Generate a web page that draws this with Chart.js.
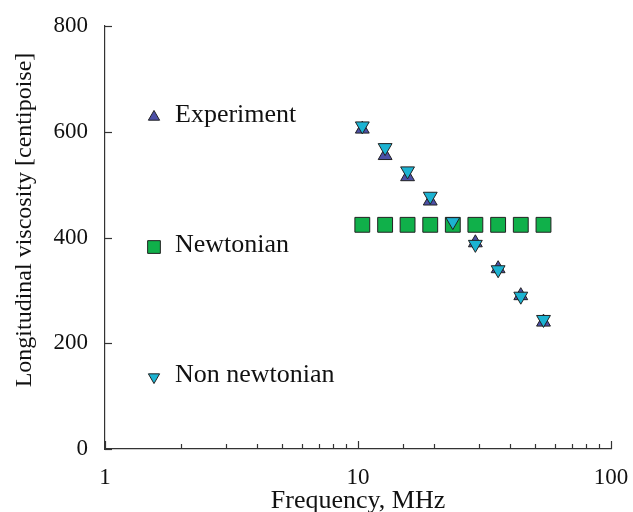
<!DOCTYPE html>
<html>
<head>
<meta charset="utf-8">
<script src="https://cdn.jsdelivr.net/npm/chart.js@4/dist/chart.umd.min.js"></script>
<style>
  html, body { margin: 0; padding: 0; background: #fff; }
  #wrap { width: 633px; height: 512px; }
</style>
</head>
<body>
<div id="wrap"><canvas id="chart" width="633" height="512"></canvas></div>
<script>
// values
const frequency = [10.4, 12.8, 15.7, 19.3, 23.7, 29.1, 35.8, 44.0, 54.1];
const experiment = [605, 555, 515, 469, 423, 390, 341, 290, 240];
const newtonian = [424, 424, 424, 424, 424, 424, 424, 424, 424];
const nonNewtonian = [611, 570, 526, 478, 430, 387, 339, 289, 245];
const yTicks = [0, 200, 400, 600, 800];
const xLabels = [1, 10, 100];

const FONT = "'Liberation Serif', 'DejaVu Serif', serif";
const AXIS = '#333';
const TEXT = '#111';

function points(ys) {
    return frequency.map((f, i) => ({ x: f, y: ys[i] }));
}

// legend entries sit inside the plot, stacked on the left
const legendItems = [
    { label: 'Experiment', style: 'triangle', rot: 0, color: '#4c4fa6', y: 628, r: 6.5 },
    { label: 'Newtonian', style: 'rect', rot: 0, color: '#10b04a', y: 382, r: 9 },
    { label: 'Non newtonian', style: 'triangle', rot: 180, color: '#1cb3d2', y: 136, r: 6.5 }
];

const decorations = {
    id: 'decorations',
    afterDraw(chart) {
        const ctx = chart.ctx;
        const xs = chart.scales.x;
        const ys = chart.scales.y;
        const area = chart.chartArea;
        ctx.save();

        // ticks point into the plot
        ctx.strokeStyle = AXIS;
        ctx.lineWidth = 1.2;
        xs.ticks.forEach(t => {
            const px = Math.round(xs.getPixelForValue(t.value)) + 0.5;
            const major = xLabels.includes(t.value);
            ctx.beginPath();
            ctx.moveTo(px, area.bottom);
            ctx.lineTo(px, area.bottom - (major ? 8 : 5));
            ctx.stroke();
        });
        yTicks.forEach(v => {
            const py = Math.round(ys.getPixelForValue(v)) + 0.5;
            ctx.beginPath();
            ctx.moveTo(area.left, py);
            ctx.lineTo(area.left + 7, py);
            ctx.stroke();
        });

        // legend
        ctx.textBaseline = 'middle';
        ctx.textAlign = 'left';
        ctx.font = '26px ' + FONT;
        legendItems.forEach(item => {
            const py = ys.getPixelForValue(item.y);
            ctx.fillStyle = item.color;
            ctx.strokeStyle = '#222';
            ctx.lineWidth = 1;
            Chart.helpers.drawPoint(ctx, { pointStyle: item.style, rotation: item.rot, radius: item.r, borderWidth: 1 }, 154, py);
            ctx.fillStyle = TEXT;
            ctx.fillText(item.label, 175, py - 2);
        });

        // axis titles
        ctx.textAlign = 'center';
        ctx.fillText('Frequency, MHz', (area.left + area.right) / 2, 501);
        ctx.translate(25, 220);
        ctx.rotate(-Math.PI / 2);
        ctx.font = '24px ' + FONT;
        ctx.fillText('Longitudinal viscosity [centipoise]', 0, 0);
        ctx.restore();
    }
};

const ctx = document.getElementById('chart').getContext('2d');
new Chart(ctx, {
    type: 'scatter',
    data: {
        datasets: [
            {
                label: 'Non newtonian',
                data: points(nonNewtonian),
                pointStyle: 'triangle',
                rotation: 180,
                pointRadius: 8,
                backgroundColor: '#1cb3d2',
                borderColor: '#222',
                borderWidth: 1,
                order: 0
            },
            {
                label: 'Newtonian',
                data: points(newtonian),
                pointStyle: 'rect',
                pointRadius: 10.5,
                backgroundColor: '#10b04a',
                borderColor: '#222',
                borderWidth: 1,
                order: 1
            },
            {
                label: 'Experiment',
                data: points(experiment),
                pointStyle: 'triangle',
                pointRadius: 8,
                backgroundColor: '#4c4fa6',
                borderColor: '#222',
                borderWidth: 1,
                order: 2
            }
        ]
    },
    options: {
        responsive: false,
        animation: false,
        layout: { padding: { top: 26, right: 22, left: 0, bottom: 0 } },
        plugins: {
            legend: { display: false },
            tooltip: { enabled: false }
        },
        scales: {
            x: {
                type: 'logarithmic',
                min: 1,
                max: 100,
                grid: { display: false, drawTicks: false },
                border: { display: true, color: AXIS, width: 1.2 },
                ticks: {
                    autoSkip: false,
                    maxRotation: 0,
                    padding: 15,
                    color: TEXT,
                    font: { family: FONT, size: 23 },
                    callback: v => xLabels.includes(v) ? String(v) : ''
                },
                afterFit: s => { s.height = 63; s.paddingLeft = 0; s.paddingRight = 0; }
            },
            y: {
                min: 0,
                max: 800,
                grid: { display: false, drawTicks: false },
                border: { display: true, color: AXIS, width: 1.2 },
                ticks: {
                    stepSize: 200,
                    padding: 17,
                    color: TEXT,
                    font: { family: FONT, size: 23 }
                },
                afterFit: s => { s.width = 105; s.paddingTop = 0; s.paddingBottom = 0; }
            }
        }
    },
    plugins: [decorations]
});
</script>
</body>
</html>
